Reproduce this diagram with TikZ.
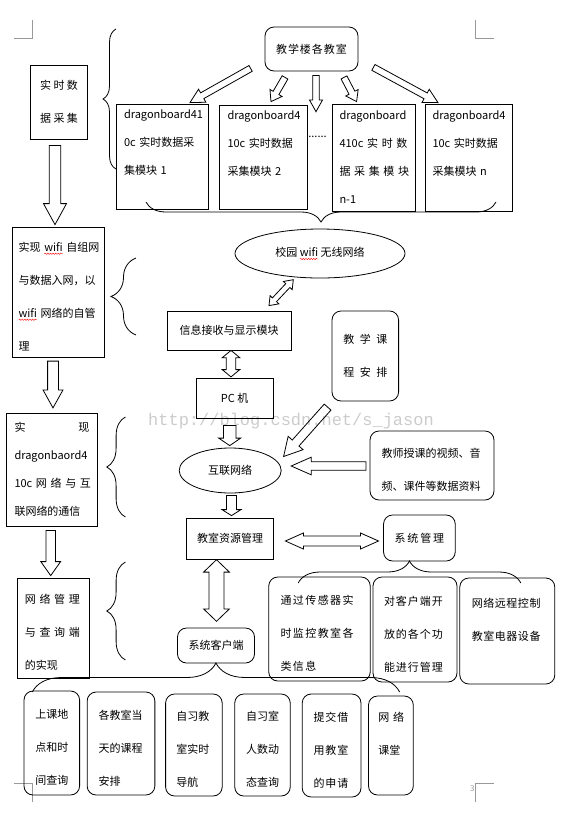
\documentclass[tikz,border=0pt]{standalone}
\usepackage{fontspec}
\setmainfont{Noto Sans CJK SC}
\newfontfamily\markfont{Liberation Mono}
\usetikzlibrary{shapes.geometric, calc, decorations.pathreplacing, decorations.pathmorphing}
\hyphenpenalty=10000
\exhyphenpenalty=10000

% red spell-check wave under a word
\newlength{\wavelen}
\newcommand{\redwave}[1]{\leavevmode\settowidth{\wavelen}{#1}\rlap{\tikz[baseline=0pt]\draw[red, line width=0.4pt, sharp corners,
    decorate, decoration={snake, amplitude=0.7pt, segment length=2.6pt}] (0pt,-2.5pt) -- (\wavelen,-2.5pt);}#1}

\tikzset{
    plainbox/.style={rectangle, draw, line width=0.8pt, inner sep=0pt, align=left,
                     font=\fontsize{11}{33}\selectfont},
    roundbox/.style={plainbox, rounded corners=9pt},
    toprow/.style={plainbox, font=\fontsize{11}{28}\selectfont},
    spaced/.style={font=\fontsize{11}{33}\selectfont\addfontfeatures{LetterSpace=#1}},
    lift/.style={execute at begin node={\rule{0pt}{18pt}}},
    ring/.style={ellipse, draw, line width=0.8pt, inner sep=0pt, font=\fontsize{11}{13}\selectfont},
    fat/.style={draw, line width=0.8pt, fill=white},
    bracket/.style={draw, line width=0.8pt, decorate, decoration={brace, amplitude=#1}},
    cropmark/.style={draw=black!40, line width=0.8pt},
}

% hollow block arrow: half shaft, half head, head length, tail, tip
\newcommand{\fatarrow}[5]{%
    \draw[fat] let \p1=(#4), \p2=(#5), \n1={atan2(\y2-\y1,\x2-\x1)}, \n2={veclen(\x2-\x1,\y2-\y1)} in
        ($(\p1)+({\n1+90}:#1pt)$) -- ($(\p1)+({\n1}:{\n2-#3pt})+({\n1+90}:#1pt)$)
        -- ($(\p1)+({\n1}:{\n2-#3pt})+({\n1+90}:#2pt)$) -- (\p2)
        -- ($(\p1)+({\n1}:{\n2-#3pt})+({\n1-90}:#2pt)$) -- ($(\p1)+({\n1}:{\n2-#3pt})+({\n1-90}:#1pt)$)
        -- ($(\p1)+({\n1-90}:#1pt)$) -- cycle;
}
% same with a head at both ends
\newcommand{\fatdarrow}[5]{%
    \draw[fat] let \p1=(#4), \p2=(#5), \n1={atan2(\y2-\y1,\x2-\x1)}, \n2={veclen(\x2-\x1,\y2-\y1)} in
        (\p1) -- ($(\p1)+({\n1}:#3pt)+({\n1+90}:#2pt)$) -- ($(\p1)+({\n1}:#3pt)+({\n1+90}:#1pt)$)
        -- ($(\p1)+({\n1}:{\n2-#3pt})+({\n1+90}:#1pt)$) -- ($(\p1)+({\n1}:{\n2-#3pt})+({\n1+90}:#2pt)$)
        -- (\p2)
        -- ($(\p1)+({\n1}:{\n2-#3pt})+({\n1-90}:#2pt)$) -- ($(\p1)+({\n1}:{\n2-#3pt})+({\n1-90}:#1pt)$)
        -- ($(\p1)+({\n1}:#3pt)+({\n1-90}:#1pt)$) -- ($(\p1)+({\n1}:#3pt)+({\n1-90}:#2pt)$) -- cycle;
}

\begin{document}
\begin{tikzpicture}[x=1pt, y=-1pt]
    \fill[white, use as bounding box] (0,0) rectangle (562,820);

    % page corners
    \draw[cropmark] (14,38) -- (32,38) -- (32,20);
    \draw[cropmark] (494,38) -- (475,38) -- (475,20);
    \draw[cropmark] (14,783) -- (32,783) -- (32,802);
    \draw[cropmark] (494,783) -- (475,783) -- (475,802);
    \node[font=\fontsize{8}{8}\selectfont, text=black!40] (pagenum) at (472.4,789) {3};

    % left column
    \node[plainbox, align=center, minimum width=56.5, minimum height=74] (rt) at (59,102) {实 时 数\\据 采 集};
    \node[plainbox, lift, minimum width=92, minimum height=130, text width=80] (wifibox) at (58.6,292)
        {实现~\redwave{wifi}~自组网\\与数据入网，以\\\redwave{wifi}~网络的自管\\理};
    \node[toprow, minimum width=91, minimum height=113, text width=75] (dbnet) at (52,469.5)
        {实\hfill 现\\dragonbaord4\\10c~网~络~与~互\\联网络的通信};
    \node[plainbox, lift, minimum width=72.4, minimum height=100, text width=57] (netm) at (53.4,628)
        {网~络~管~理\\与~查~询~端\\的实现};

    % classrooms and boards
    \node[roundbox, spaced=9, align=center, minimum width=93, minimum height=44] (top) at (311.5,49) {教学楼各教室};
    \node[toprow, minimum width=92, minimum height=105, text width=77] (db1) at (162.5,156.5)
        {dragonboard41\\0c~实时数据采\\集模块~1\\\mbox{}};
    \node[toprow, minimum width=88, minimum height=104, text width=71] (db2) at (263,157)
        {dragonboard4\\10c~实时数据\\采集模块~2\\\mbox{}};
    \node[toprow, minimum width=83, minimum height=107, text width=69] (db3) at (374,157.5)
        {dragonboard\\410c~实~时~数\\据~采~集~模~块\\n-1};
    \node[toprow, minimum width=87, minimum height=107, text width=73] (db4) at (469,157.5)
        {dragonboard4\\10c~实时数据\\采集模块~n\\\mbox{}};
    \node[font=\fontsize{11}{13}\selectfont, inner sep=0pt] (dots) at (317.5,137) {......};
    \coordinate (gap) at (316,111.7);

    % network chain
    \node[ring, minimum width=170, minimum height=49] (wifi) at (320,253.5) {校园~\redwave{wifi}~无线网络};
    \node[plainbox, align=center, minimum width=124, minimum height=39] (info) at (229,330.5) {信息接收与显示模块};
    \node[plainbox, align=center, minimum width=77, minimum height=40] (pc) at (234.7,398.3) {PC 机};
    \node[roundbox, align=center, minimum width=66.6, minimum height=90] (course) at (365.3,356)
        {教\enspace 学\enspace 课\\程\enspace 安\enspace 排};
    \node[ring, minimum width=102, minimum height=45] (net) at (230.2,470.5) {互联网络};
    \node[roundbox, lift, minimum width=124, minimum height=69, text width=101] (teach) at (432,465.5)
        {教师授课的视频、音\\频、课件等数据资料};
    \node[plainbox, align=center, minimum width=87, minimum height=41] (res) at (230,538.5) {教室资源管理};
    \node[roundbox, align=center, minimum width=71.7, minimum height=46] (sysm) at (419.4,538) {系\,统\,管\,理};

    % management functions
    \node[roundbox, spaced=13, lift, minimum width=101.5, minimum height=104, text width=78] (r1) at (319.5,629)
        {通过传感器实\\时监控教室各\\类信息};
    \node[roundbox, spaced=9, lift, minimum width=84, minimum height=105, text width=62] (r2) at (415,629.5)
        {对客户端开\\放的各个功\\能进行管理};
    \node[roundbox, spaced=5, lift, minimum width=95, minimum height=106, text width=71] (r3) at (507.3,631)
        {网络远程控制\\教室电器设备\\\mbox{}};

    % client functions
    \node[roundbox, align=center, minimum width=77, minimum height=35] (client) at (216,645.5) {系统客户端};
    \node[roundbox, lift, minimum width=55.6, minimum height=104, text width=33] (b1) at (51.8,743) {上课地\\点和时\\间查询};
    \node[roundbox, lift, minimum width=67.7, minimum height=103, text width=45] (b2) at (121,743.5) {各教室当\\天的课程\\安排};
    \node[roundbox, lift, minimum width=56.6, minimum height=102, text width=35] (b3) at (193.9,745) {自习教\\室实时\\导航};
    \node[roundbox, lift, minimum width=55.5, minimum height=102, text width=33] (b4) at (262.5,745) {自习室\\人数动\\态查询};
    \node[roundbox, spaced=8, lift, minimum width=58.8, minimum height=103, text width=36] (b5) at (331.6,745.5) {提交借\\用教室\\的申请};
    \node[roundbox, lift, minimum width=44.8, minimum height=99, text width=25] (b6) at (390.9,745.5) {网~络\\课堂\\\mbox{}};

    % braces
    \draw[bracket=13] (116,169) -- (116,29);
    \draw[bracket=20] (496,202) -- (146,202);
    \draw[bracket=25] (136,335) -- (136,258);
    \draw[bracket=18.6] (125.4,517) -- (125.4,417);
    \draw[bracket=18.6] (125.4,660) -- (125.4,562);
    \draw[bracket=22] (298.2,583) -- (520.8,583);
    \draw[bracket=29] (32.3,692) -- (399.6,692);

    % arrows, top row
    \fatarrow{3.3}{7.5}{14}{$(top.south west)+(-14,-3)$}{$(db1.north)+(27.5,-1)$}
    \fatarrow{3.3}{7}{10}{$(top.south)+(-26.5,6)$}{$(db2.north)+(8,-3)$}
    \fatarrow{3.3}{6.5}{11.7}{$(top.south)+(4.5,4)$}{gap}
    \fatarrow{3.3}{7}{10}{$(top.south)+(32.5,6)$}{$(db3.north)+(-17.4,-2)$}
    \fatarrow{3.3}{7.5}{14}{$(top.south east)+(15,-4)$}{$(db4.north)+(-31,-1)$}

    % arrows, left column
    \fatarrow{5.7}{11.5}{21}{$(rt.south)+(-4,6)$}{$(wifibox.north)+(-3.6,-2)$}
    \fatarrow{5.4}{10}{18}{$(wifibox.south)+(-5.6,3.7)$}{$(dbnet.north)+(1,-4.7)$}
    \fatarrow{4.8}{9.9}{14}{$(dbnet.south)+(-1.3,4)$}{$(netm.north)+(-2.7,-2)$}

    % arrows, middle
    \fatdarrow{2.8}{6}{8}{$(info.north)+(40,-5)$}{$(wifi.south)+(-26.7,1.3)$}
    \fatdarrow{4.7}{8.8}{7.3}{$(info.south)+(2,0)$}{$(pc.north)+(-3.7,-1)$}
    \fatarrow{6.3}{11}{7.5}{$(pc.south)+(-5,6.7)$}{$(net.north)+(-0.5,-2)$}
    \fatarrow{4.5}{10}{18}{$(course.south west)+(-4,5.7)$}{$(net.east)+(2,-14)$}
    \fatarrow{4.2}{8.8}{20}{$(teach.west)+(-3.7,0.5)$}{$(net.east)+(9.6,-4.5)$}
    \fatarrow{5}{9.5}{6}{$(net.south)+(1.3,2)$}{$(res.north)+(1.5,-2)$}
    \fatdarrow{5}{8}{18}{$(res.east)+(11.5,2.5)$}{$(sysm.west)+(-4.6,3)$}
    \fatdarrow{7.5}{12.9}{12.4}{$(res.south)+(-13.5,0.3)$}{$(client.north)+(0.5,-6.3)$}

    % watermark
    \node[font=\markfont\fontsize{17}{17}\selectfont, text opacity=0.2] (mark) at (291,421) {http://blog.csdn.net/s\_jason};
\end{tikzpicture}
\end{document}
